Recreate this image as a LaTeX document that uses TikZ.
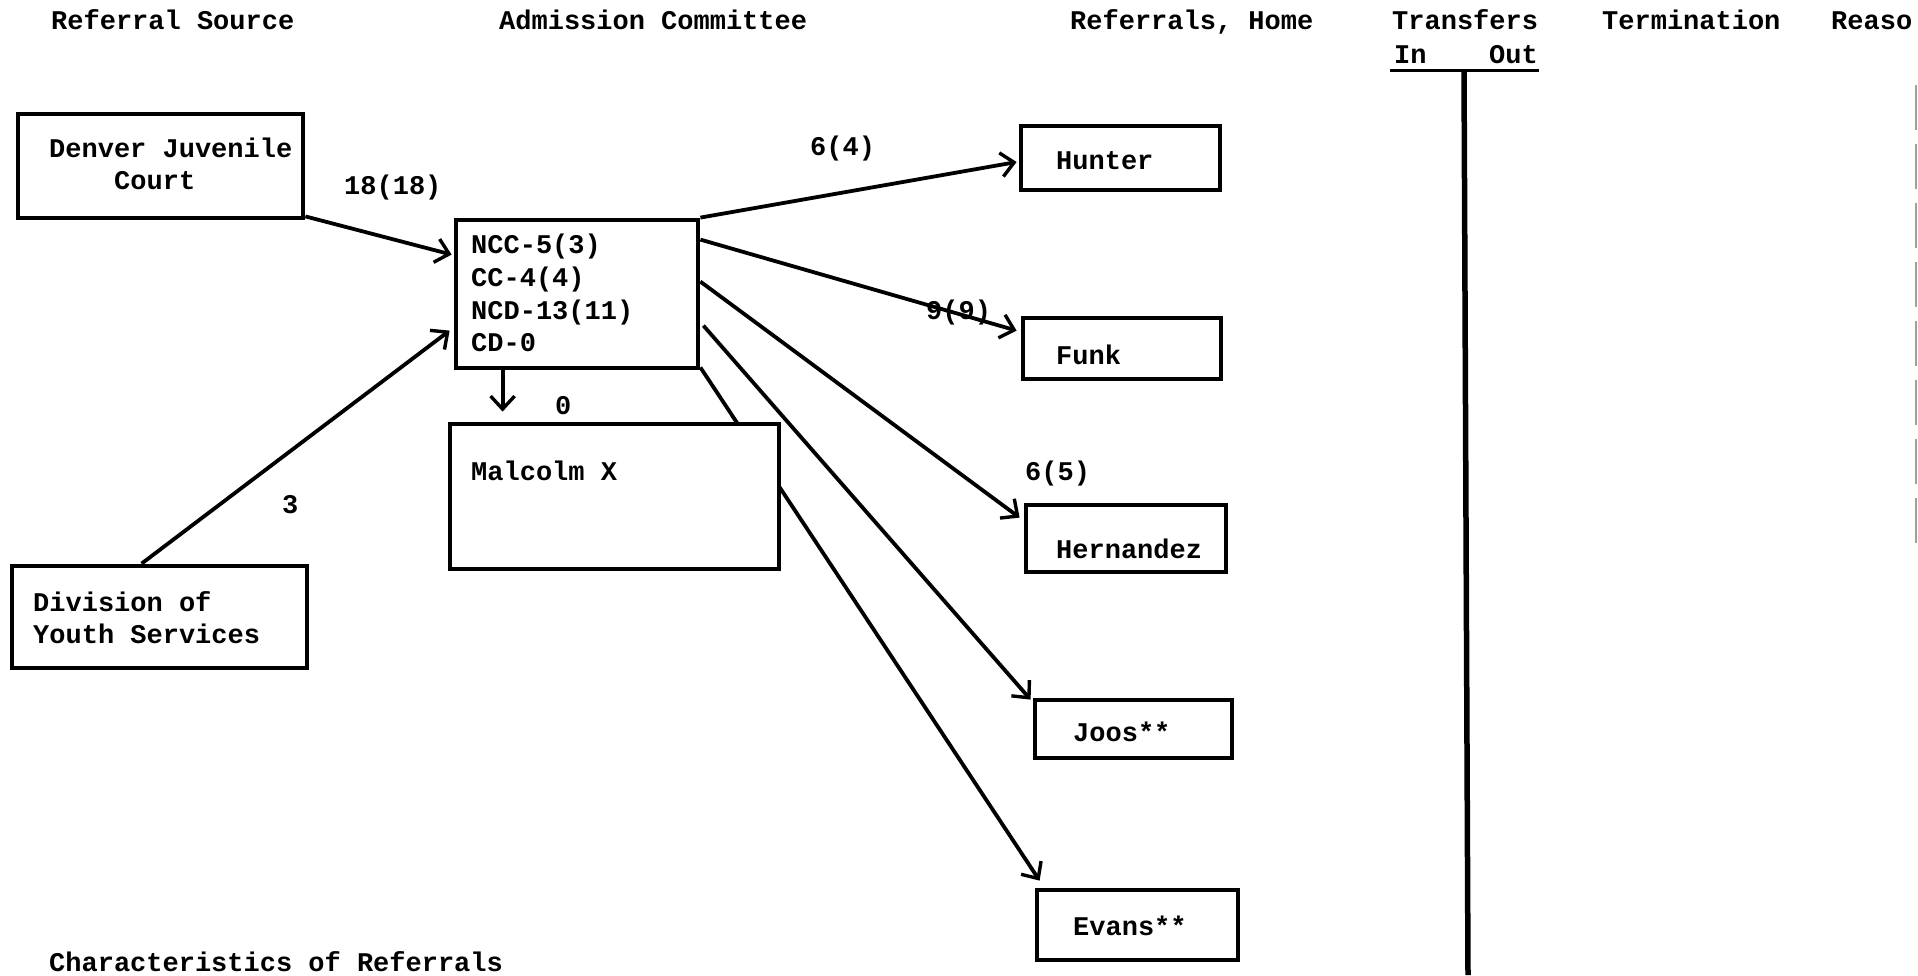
\documentclass[tikz,border=0pt]{standalone}
\usepackage{fontspec}
\setmonofont{Liberation Mono}
\usetikzlibrary{arrows.meta,calc}
\begin{document}
\begin{tikzpicture}[x=1pt,y=-1pt,
  box/.style={draw,line width=4.8pt,rectangle,inner sep=0pt,fill=white},
  txt/.style={font=\ttfamily\bfseries\fontsize{27}{30}\selectfont,inner sep=0pt,anchor=base west},
  conn/.style={line width=3.8pt,-{Straight Barb[length=13pt,width=24pt,line width=3.4pt]}},
  rule/.style={line width=5.5pt}]
\useasboundingbox (0,0) rectangle (1918,975);
\clip (0,0) rectangle (1918,975);
% headers
\node[txt] (h1) at (51,29) {Referral Source};
\node[txt] (h2) at (499,29) {Admission Committee};
\node[txt] (h3) at (1070,29) {Referrals, Home};
\node[txt] (h4) at (1392,29) {Transfers};
\node[txt] (h4a) at (1394,63) {In};
\node[txt] (h4b) at (1489,63) {Out};
\node[txt] (h5) at (1602,29) {Termination};
\node[txt] (h6) at (1831,29) {Reaso};
\coordinate (ul1) at (1390,70);
\coordinate (ul2) at (1539,70);
\coordinate (vt) at (1464,70);
\coordinate (vb) at (1468,975);
\draw[line width=3pt] (ul1) -- (ul2);
\draw[rule] (vt) -- (vb);
\coordinate (re1) at (1916,85);
\coordinate (re2) at (1916,545);
\draw[line width=2.5pt,gray!75,dash pattern=on 45pt off 14pt] (re1) -- (re2);
% Evans line first (passes behind Malcolm X)
\node[box,minimum width=242pt,minimum height=148pt] (ncc) at (577,294) {};
\node[box,minimum width=201pt,minimum height=70pt] (evans) at (1137.5,925) {};
\draw[conn] ($(ncc.south east)+(0,-3)$) -- ($(evans.north west)+(5,-7)$);
% boxes
\node[box,minimum width=285pt,minimum height=104pt] (den) at (160.5,166) {};
\node[box,minimum width=295pt,minimum height=102pt] (dys) at (159.5,617) {};
\node[box,minimum width=329pt,minimum height=145pt] (mal) at (614.5,496.5) {};
\node[box,minimum width=199pt,minimum height=64pt] (hunter) at (1120.5,158) {};
\node[box,minimum width=198pt,minimum height=61pt] (funk) at (1122,348.5) {};
\node[box,minimum width=200pt,minimum height=67pt] (hern) at (1126,538.5) {};
\node[box,minimum width=197pt,minimum height=58pt] (joos) at (1133.5,729) {};
% box texts
\node[txt] (t1) at (49,157) {Denver Juvenile};
\node[txt] (t2) at (114,189) {Court};
\node[txt] (t3) at (471,253) {NCC-5(3)};
\node[txt] (t4) at (471,286) {CC-4(4)};
\node[txt] (t5) at (471,319) {NCD-13(11)};
\node[txt] (t6) at (471,351) {CD-0};
\node[txt] (t7) at (33,611) {Division of};
\node[txt] (t8) at (33,643) {Youth Services};
\node[txt] (t9) at (471,480) {Malcolm X};
\node[txt] (t10) at (1056,169) {Hunter};
\node[txt] (t11) at (1056,364) {Funk};
\node[txt] (t12) at (1056,558) {Hernandez};
\node[txt] (t13) at (1073,741) {Joos**};
\node[txt] (t14) at (1073,935) {Evans**};
\node[txt] (t15) at (49,971) {Characteristics of Referrals};
% connectors
\draw[conn] ($(den.south east)+(0,-4)$) -- ($(ncc.north west)+(-2,37)$);
\draw[conn] ($(dys.north west)+(132,0)$) -- ($(ncc.north west)+(-4,113)$);
\draw[conn] ($(ncc.south west)+(49,0)$) -- ($(mal.north west)+(55,-10)$);
\draw[conn] (ncc.north east) -- ($(hunter.west)+(-2,4)$);
\draw[conn] ($(ncc.north east)+(0,22)$) -- ($(funk.north west)+(-4,15)$);
\draw[conn] ($(ncc.north east)+(0,64)$) -- ($(hern.north west)+(-4,15)$);
\draw[conn] ($(ncc.north east)+(3,108)$) -- ($(joos.north west)+(-2,2)$);
% labels
\node[txt] (l1) at (344,194) {18(18)};
\node[txt] (l2) at (282,513) {3};
\node[txt] (l3) at (555,414) {0};
\node[txt] (l4) at (810,155) {6(4)};
\node[txt] (l5) at (926,319) {9(9)};
\node[txt] (l6) at (1025,480) {6(5)};
\end{tikzpicture}
\end{document}
